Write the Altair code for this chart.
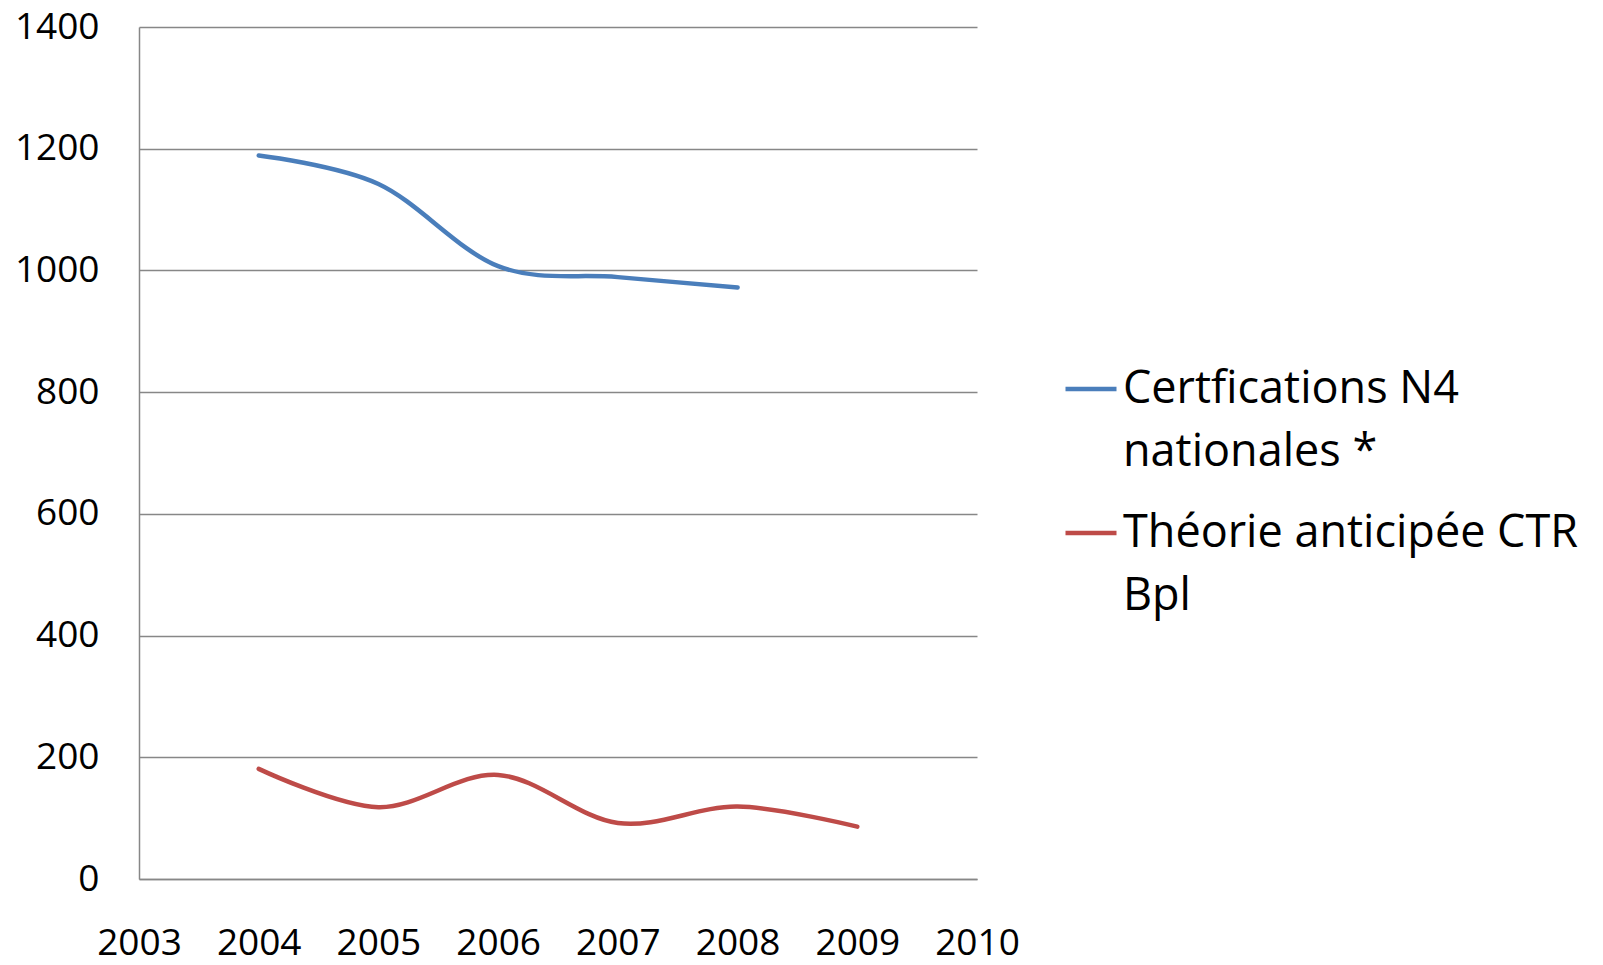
import altair as alt
import pandas as pd

years_blue = [2004, 2005, 2006, 2007, 2008]
values_blue = [1189, 1142, 1007, 989, 972]
years_red = [2004, 2005, 2006, 2007, 2008, 2009]
values_red = [181, 118, 171, 92, 119, 86]
series_names = ["Certfications N4 nationales *", "Théorie anticipée CTR Bpl"]
series_colors = ["#4A7EBB", "#BE4B48"]
x_ticks = [2003, 2004, 2005, 2006, 2007, 2008, 2009, 2010]
y_ticks = [0, 200, 400, 600, 800, 1000, 1200, 1400]

rows = [{"year": y, "value": v, "series": series_names[0]} for y, v in zip(years_blue, values_blue)]
rows += [{"year": y, "value": v, "series": series_names[1]} for y, v in zip(years_red, values_red)]
df = pd.DataFrame(rows)

label_expr = ("datum.label == 'Certfications N4 nationales *' ? ['Certfications N4', 'nationales *']"
              " : ['Théorie anticipée CTR', 'Bpl']")

chart = alt.Chart(df).mark_line(interpolate="cardinal", strokeWidth=4.5, strokeCap="round").encode(
    x=alt.X("year:Q",
            scale=alt.Scale(domain=[2003, 2010], nice=False, zero=False),
            axis=alt.Axis(values=x_ticks, format="d", title=None, grid=False, ticks=False,
                          labelFont="Open Sans", labelFontSize=37, labelColor="#000000",
                          labelPadding=64, labelBaseline="middle", domainColor="#878787",
                          domainWidth=1.5, labelFlush=False, labelOverlap=False)),
    y=alt.Y("value:Q",
            scale=alt.Scale(domain=[0, 1400], nice=False),
            axis=alt.Axis(values=y_ticks, format="d", title=None, grid=True, gridColor="#878787",
                          gridWidth=1.5, ticks=False, labelFont="Open Sans", labelFontSize=37,
                          labelColor="#000000", labelPadding=40, domainColor="#878787",
                          domainWidth=1.5, labelFlush=False, labelOverlap=False)),
    color=alt.Color("series:N",
                    scale=alt.Scale(domain=series_names, range=series_colors),
                    title=None,
                    legend=alt.Legend(orient="none", legendX=924, legendY=334,
                                      symbolType="stroke", symbolSize=2601, symbolStrokeWidth=4.5,
                                      labelFont="Open Sans", labelFontSize=45, labelColor="#000000",
                                      labelExpr=label_expr, labelOffset=4, labelLimit=700,
                                      labelBaseline="middle", rowPadding=30)),
    detail="series:N",
).properties(
    width=838,
    height=852,
    autosize=alt.AutoSizeParams(type="none"),
    padding={"left": 131, "top": 19, "right": 618, "bottom": 85},
    background="#FFFFFF",
).configure(
    style={"guide-label": {"lineHeight": 63}},
    view=alt.ViewConfig(stroke=None),
)

chart.save("out.html", embed_options={"renderer": "svg", "actions": False})
